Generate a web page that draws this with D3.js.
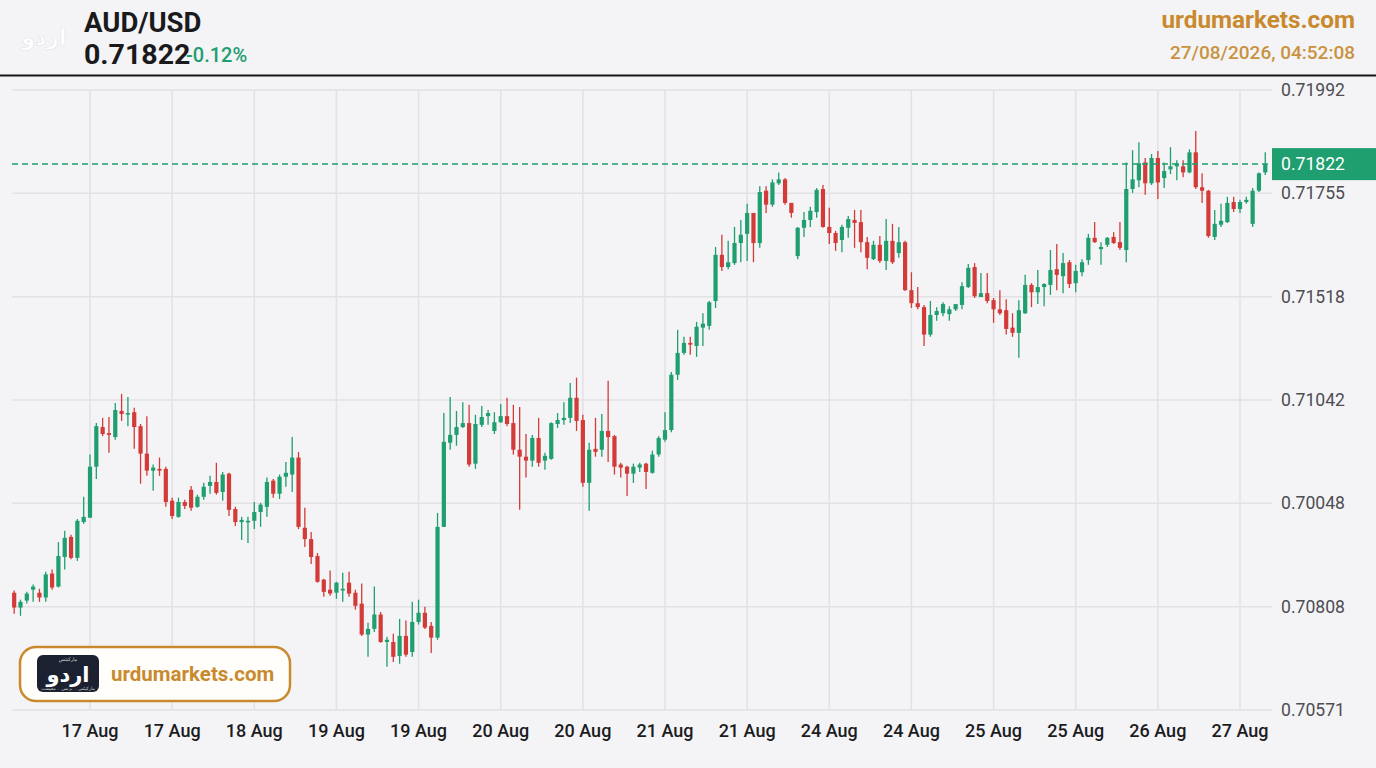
<!DOCTYPE html>
<meta charset="utf-8">
<style>
body { margin: 0; background: #f4f4f6; }
svg { display: block; font-family: Roboto, "Noto Sans", sans-serif; }
.grid line { stroke: #e1e1e6; stroke-width: 1.5; }
.ylab { font-size: 17.6px; fill: #4d4d52; }
.xlab { font-size: 18px; fill: #1c1c1f; font-weight: 500; }
</style>
<svg width="1376" height="768"></svg>
<script src="https://cdn.jsdelivr.net/npm/d3@7"></script>
<script>

// hourly AUD/USD candles
var openP = [
  0.70839,0.70805,0.70821,0.70846,0.70839,0.70828,0.70883,0.70853,0.70921,0.70967,
  0.70919,0.71001,0.71011,0.71128,0.71219,0.71205,0.71196,0.71256,0.71249,0.71253,
  0.71221,0.71158,0.71119,0.71123,0.71123,0.71050,0.71013,0.71047,0.71075,0.71036,
  0.71059,0.71084,0.71093,0.71070,0.71112,0.71031,0.71001,0.71001,0.71004,0.71024,
  0.71036,0.71096,0.71066,0.71105,0.71110,0.71149,0.70988,0.70962,0.70923,0.70869,
  0.70846,0.70839,0.70844,0.70862,0.70839,0.70814,0.70743,0.70756,0.70789,0.70726,
  0.70726,0.70694,0.70740,0.70703,0.70772,0.70793,0.70763,0.70736,0.70990,0.71183,
  0.71201,0.71219,0.71228,0.71135,0.71224,0.71244,0.71210,0.71230,0.71244,0.71228,
  0.71167,0.71151,0.71142,0.71194,0.71142,0.71146,0.71226,0.71235,0.71240,0.71286,
  0.71235,0.71091,0.71169,0.71167,0.71210,0.71198,0.71133,0.71128,0.71112,0.71126,
  0.71135,0.71114,0.71156,0.71190,0.71212,0.71339,0.71389,0.71412,0.71405,0.71447,
  0.71451,0.71508,0.71614,0.71586,0.71595,0.71641,0.71662,0.71710,0.71641,0.71761,
  0.71729,0.71778,0.71787,0.71733,0.71611,0.71676,0.71694,0.71712,0.71765,0.71678,
  0.71664,0.71648,0.71676,0.71694,0.71689,0.71643,0.71604,0.71637,0.71600,0.71646,
  0.71618,0.71643,0.71533,0.71503,0.71494,0.71431,0.71476,0.71480,0.71478,0.71489,
  0.71499,0.71540,0.71586,0.71517,0.71526,0.71510,0.71489,0.71487,0.71447,0.71435,
  0.71480,0.71545,0.71528,0.71540,0.71545,0.71581,0.71565,0.71597,0.71549,0.71574,
  0.71602,0.71653,0.71627,0.71637,0.71655,0.71643,0.71625,0.71765,0.71785,0.71826,
  0.71778,0.71836,0.71790,0.71810,0.71817,0.71817,0.71803,0.71849,0.71769,0.71761,
  0.71655,0.71683,0.71689,0.71735,0.71719,0.71735,0.71685,0.71761,0.71803
];
var highP = [
  0.70844,0.70823,0.70841,0.70858,0.70848,0.70887,0.70892,0.70955,0.70981,0.70972,
  0.71008,0.71059,0.71156,0.71228,0.71240,0.71242,0.71274,0.71295,0.71288,0.71263,
  0.71226,0.71244,0.71133,0.71149,0.71128,0.71057,0.71057,0.71052,0.71084,0.71064,
  0.71091,0.71107,0.71137,0.71116,0.71114,0.71036,0.71013,0.71013,0.71047,0.71045,
  0.71103,0.71100,0.71110,0.71139,0.71196,0.71162,0.71034,0.70978,0.70930,0.70871,
  0.70890,0.70864,0.70885,0.70887,0.70846,0.70860,0.70770,0.70853,0.70795,0.70738,
  0.70745,0.70779,0.70775,0.70818,0.70823,0.70807,0.70772,0.71022,0.71251,0.71288,
  0.71256,0.71276,0.71270,0.71247,0.71267,0.71258,0.71253,0.71272,0.71286,0.71270,
  0.71265,0.71203,0.71201,0.71240,0.71160,0.71230,0.71251,0.71276,0.71320,0.71332,
  0.71247,0.71183,0.71240,0.71249,0.71325,0.71201,0.71137,0.71130,0.71135,0.71137,
  0.71137,0.71165,0.71198,0.71253,0.71345,0.71442,0.71426,0.71426,0.71460,0.71480,
  0.71508,0.71632,0.71660,0.71646,0.71678,0.71694,0.71731,0.71710,0.71771,0.71771,
  0.71787,0.71803,0.71790,0.71733,0.71678,0.71712,0.71724,0.71767,0.71774,0.71722,
  0.71669,0.71683,0.71703,0.71717,0.71717,0.71655,0.71646,0.71657,0.71696,0.71685,
  0.71678,0.71646,0.71574,0.71540,0.71499,0.71508,0.71494,0.71505,0.71496,0.71494,
  0.71551,0.71593,0.71595,0.71572,0.71572,0.71515,0.71533,0.71512,0.71480,0.71510,
  0.71568,0.71549,0.71579,0.71549,0.71625,0.71639,0.71618,0.71602,0.71591,0.71604,
  0.71662,0.71689,0.71643,0.71655,0.71666,0.71689,0.71826,0.71854,0.71872,0.71836,
  0.71845,0.71852,0.71826,0.71861,0.71831,0.71831,0.71856,0.71898,0.71801,0.71763,
  0.71717,0.71731,0.71747,0.71747,0.71740,0.71747,0.71767,0.71803,0.71849
];
var lowP = [
  0.70791,0.70786,0.70814,0.70818,0.70818,0.70818,0.70846,0.70851,0.70892,0.70916,
  0.70912,0.70997,0.71011,0.71100,0.71198,0.71160,0.71190,0.71233,0.71221,0.71169,
  0.71089,0.71107,0.71073,0.71107,0.71036,0.71008,0.71011,0.71031,0.71027,0.71034,
  0.71052,0.71066,0.71064,0.71050,0.71015,0.70992,0.70960,0.70953,0.70985,0.70990,
  0.71013,0.71057,0.71054,0.71082,0.71070,0.70985,0.70944,0.70905,0.70862,0.70830,
  0.70832,0.70825,0.70818,0.70830,0.70800,0.70740,0.70692,0.70749,0.70724,0.70669,
  0.70680,0.70676,0.70692,0.70692,0.70766,0.70756,0.70701,0.70731,0.70990,0.71167,
  0.71176,0.71217,0.71128,0.71123,0.71219,0.71224,0.71203,0.71228,0.71221,0.71156,
  0.71029,0.71103,0.71128,0.71128,0.71121,0.71144,0.71217,0.71224,0.71228,0.71210,
  0.71082,0.71027,0.71151,0.71151,0.71139,0.71110,0.71103,0.71061,0.71091,0.71116,
  0.71077,0.71112,0.71151,0.71185,0.71207,0.71327,0.71385,0.71385,0.71380,0.71405,
  0.71442,0.71492,0.71577,0.71581,0.71591,0.71597,0.71600,0.71597,0.71630,0.71710,
  0.71724,0.71774,0.71729,0.71699,0.71604,0.71655,0.71678,0.71699,0.71676,0.71639,
  0.71623,0.71620,0.71653,0.71630,0.71620,0.71581,0.71602,0.71595,0.71579,0.71593,
  0.71607,0.71531,0.71492,0.71489,0.71405,0.71426,0.71463,0.71473,0.71463,0.71485,
  0.71489,0.71538,0.71515,0.71517,0.71503,0.71458,0.71476,0.71431,0.71426,0.71378,
  0.71478,0.71494,0.71501,0.71496,0.71522,0.71533,0.71526,0.71538,0.71528,0.71565,
  0.71591,0.71641,0.71591,0.71632,0.71639,0.71625,0.71597,0.71756,0.71769,0.71752,
  0.71774,0.71742,0.71767,0.71799,0.71785,0.71792,0.71801,0.71765,0.71733,0.71653,
  0.71648,0.71678,0.71687,0.71712,0.71710,0.71731,0.71678,0.71758,0.71797
];
var closeP = [
  0.70805,0.70818,0.70837,0.70853,0.70828,0.70881,0.70851,0.70923,0.70965,0.70919,
  0.71004,0.71013,0.71128,0.71221,0.71203,0.71201,0.71258,0.71249,0.71251,0.71219,
  0.71158,0.71119,0.71126,0.71119,0.71047,0.71015,0.71047,0.71038,0.71034,0.71059,
  0.71082,0.71093,0.71068,0.71110,0.71029,0.71001,0.71006,0.71004,0.71024,0.71041,
  0.71093,0.71066,0.71105,0.71114,0.71149,0.70990,0.70962,0.70921,0.70864,0.70841,
  0.70837,0.70862,0.70848,0.70837,0.70809,0.70743,0.70756,0.70789,0.70726,0.70731,
  0.70692,0.70740,0.70697,0.70772,0.70793,0.70759,0.70736,0.70990,0.71185,0.71201,
  0.71219,0.71228,0.71133,0.71226,0.71242,0.71251,0.71230,0.71244,0.71226,0.71167,
  0.71151,0.71142,0.71194,0.71137,0.71153,0.71228,0.71235,0.71240,0.71286,0.71233,
  0.71091,0.71167,0.71162,0.71210,0.71196,0.71128,0.71126,0.71112,0.71128,0.71133,
  0.71116,0.71156,0.71194,0.71212,0.71339,0.71389,0.71412,0.71408,0.71449,0.71456,
  0.71505,0.71614,0.71586,0.71597,0.71641,0.71660,0.71710,0.71641,0.71758,0.71729,
  0.71780,0.71787,0.71733,0.71710,0.71676,0.71694,0.71715,0.71763,0.71678,0.71664,
  0.71641,0.71678,0.71696,0.71687,0.71643,0.71607,0.71637,0.71600,0.71646,0.71597,
  0.71643,0.71533,0.71503,0.71494,0.71431,0.71476,0.71485,0.71501,0.71489,0.71501,
  0.71542,0.71584,0.71519,0.71526,0.71508,0.71489,0.71480,0.71444,0.71435,0.71487,
  0.71545,0.71528,0.71540,0.71547,0.71579,0.71568,0.71595,0.71547,0.71577,0.71597,
  0.71653,0.71643,0.71632,0.71653,0.71641,0.71630,0.71765,0.71787,0.71824,0.71778,
  0.71836,0.71780,0.71806,0.71817,0.71824,0.71803,0.71849,0.71769,0.71761,0.71657,
  0.71685,0.71692,0.71733,0.71719,0.71735,0.71740,0.71761,0.71801,0.71822
];

var yTicks = [0.71992, 0.71755, 0.71518, 0.71281, 0.71044, 0.70807, 0.70570];
var yTickLabels = ["0.71992", "0.71755", "0.71518", "0.71042", "0.70048", "0.70808", "0.70571"];
// a date label sits on every 13th candle
var xTickIdx = [12, 25, 38, 51, 64, 77, 90, 103, 116, 129, 142, 155, 168, 181, 194];
var xTickLabels = ["17 Aug", "17 Aug", "18 Aug", "19 Aug", "19 Aug", "20 Aug", "20 Aug", "21 Aug",
                   "21 Aug", "24 Aug", "24 Aug", "25 Aug", "25 Aug", "26 Aug", "27 Aug"];

var symbol = "AUD/USD",
    lastPrice = 0.71822,
    changeText = "-0.12%",
    site = "urdumarkets.com",
    stamp = "27/08/2026, 04:52:08";

var green = "#1f9e6f", red = "#d23b38", gold = "#c98a2e";

var svg = d3.select("svg"),
    width = +svg.attr("width"),
    height = +svg.attr("height");

var candles = openP.map(function(o, i) {
  return {i: i, o: o, h: highP[i], l: lowP[i], c: closeP[i]};
});

var plotLeft = 12, plotRight = 1272, plotTop = 90, plotBottom = 710;

var x = d3.scaleLinear().domain([12, 194]).range([90, 1240]);
var y = d3.scaleLinear().domain([yTicks[6], yTicks[0]]).range([plotBottom, plotTop]);

svg.append("rect").attr("width", width).attr("height", height).attr("fill", "#f4f4f6");

// grid
var grid = svg.append("g").attr("class", "grid");
grid.selectAll(".h").data(yTicks).enter().append("line")
    .attr("x1", plotLeft).attr("x2", plotRight)
    .attr("y1", function(d) { return y(d); }).attr("y2", function(d) { return y(d); });
grid.selectAll(".v").data(xTickIdx).enter().append("line")
    .attr("x1", function(d) { return x(d); }).attr("x2", function(d) { return x(d); })
    .attr("y1", plotTop).attr("y2", plotBottom);

// y labels
svg.append("g").selectAll("text").data(yTicks).enter().append("text")
    .attr("class", "ylab")
    .attr("x", 1281)
    .attr("y", function(d) { return y(d); })
    .attr("dy", "0.35em")
    .text(function(d, i) { return yTickLabels[i]; });

// x labels
svg.append("g").selectAll("text").data(xTickIdx).enter().append("text")
    .attr("class", "xlab")
    .attr("x", function(d) { return x(d); })
    .attr("y", 737)
    .attr("text-anchor", "middle")
    .text(function(d, i) { return xTickLabels[i]; });

// candles
var bw = 4.2;
var cg = svg.append("g").selectAll("g").data(candles).enter().append("g")
    .attr("fill", function(d) { return d.c >= d.o ? green : red; })
    .attr("stroke", function(d) { return d.c >= d.o ? green : red; });
cg.append("line")
    .attr("x1", function(d) { return x(d.i); }).attr("x2", function(d) { return x(d.i); })
    .attr("y1", function(d) { return y(d.h); }).attr("y2", function(d) { return y(d.l); })
    .attr("stroke-width", 1.3);
cg.append("rect")
    .attr("x", function(d) { return x(d.i) - bw / 2; })
    .attr("width", bw)
    .attr("y", function(d) { return y(Math.max(d.o, d.c)); })
    .attr("height", function(d) { return Math.max(1.6, Math.abs(y(d.o) - y(d.c))); })
    .attr("stroke", "none");

// last price line + box
svg.append("line")
    .attr("x1", plotLeft).attr("x2", plotRight)
    .attr("y1", y(lastPrice)).attr("y2", y(lastPrice))
    .attr("stroke", green).attr("stroke-width", 1.5)
    .attr("stroke-dasharray", "6,4");
svg.append("rect")
    .attr("x", plotRight).attr("y", y(lastPrice) - 16)
    .attr("width", width - plotRight).attr("height", 32)
    .attr("fill", green);
svg.append("text")
    .attr("x", 1281).attr("y", y(lastPrice)).attr("dy", "0.35em")
    .attr("fill", "#fff").style("font-size", "17.6px")
    .text(d3.format(".5f")(lastPrice));

// header
svg.append("line").attr("x1", 0).attr("x2", width).attr("y1", 75.5).attr("y2", 75.5)
    .attr("stroke", "#151515").attr("stroke-width", 2);
svg.append("text").attr("x", 44).attr("y", 45).attr("text-anchor", "middle")
    .style("font-family", "DejaVu Sans").style("font-size", "22px").style("font-weight", "bold")
    .attr("fill", "#ffffff").attr("stroke", "#e6e6ea").attr("stroke-width", 0.7)
    .text("اردو");
svg.append("text").attr("x", 84).attr("y", 32)
    .style("font-size", "27.5px").style("font-weight", "bold").attr("fill", "#1a1a1d")
    .text(symbol);
svg.append("text").attr("x", 84).attr("y", 64)
    .style("font-size", "28.5px").style("font-weight", "bold").attr("fill", "#1a1a1d")
    .text(d3.format(".5f")(lastPrice));
svg.append("text").attr("x", 186).attr("y", 62)
    .style("font-size", "20px").style("font-weight", "500").attr("fill", green)
    .text(changeText);
svg.append("text").attr("x", 1355).attr("y", 28).attr("text-anchor", "end")
    .style("font-size", "24.3px").style("font-weight", "bold").attr("fill", gold)
    .text(site);
svg.append("text").attr("x", 1355).attr("y", 59).attr("text-anchor", "end")
    .style("font-size", "19px").style("font-weight", "500").attr("fill", "#c9923f")
    .text(stamp);

// badge bottom left
var badge = svg.append("g");
badge.append("rect").attr("x", 20).attr("y", 647).attr("width", 270).attr("height", 54).attr("rx", 16)
    .attr("fill", "#fffefb").attr("stroke", gold).attr("stroke-width", 2.5);
badge.append("rect").attr("x", 37).attr("y", 655).attr("width", 62).attr("height", 37).attr("rx", 6)
    .attr("fill", "#1b2130");
badge.append("text").attr("x", 68).attr("y", 661).attr("text-anchor", "middle")
    .style("font-family", "DejaVu Sans").style("font-size", "5px").attr("fill", "#d8d8d8")
    .text("مارکیٹس");
badge.append("text").attr("x", 68).attr("y", 682).attr("text-anchor", "middle")
    .style("font-family", "DejaVu Sans").style("font-size", "21px").style("font-weight", "bold")
    .attr("fill", "#ffffff").text("اردو");
badge.append("text").attr("x", 68).attr("y", 690).attr("text-anchor", "middle")
    .style("font-family", "DejaVu Sans").style("font-size", "4.5px").attr("fill", "#cfcfcf")
    .text("مارکیٹس ۔ بزنس ۔ معیشت");
badge.append("text").attr("x", 111).attr("y", 681)
    .style("font-size", "20.5px").style("font-weight", "bold").attr("fill", gold)
    .text(site);

</script>
